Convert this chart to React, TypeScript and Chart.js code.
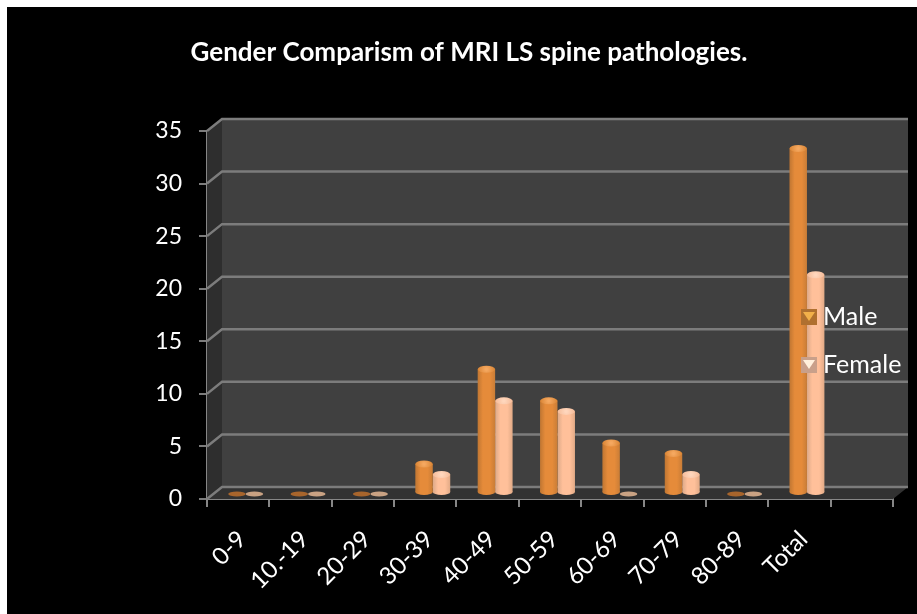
import React, { useEffect, useRef } from "react";
import { Chart, registerables } from "chart.js";

Chart.register(...registerables);

const TITLE = "Gender Comparism of MRI LS spine pathologies.";
const categories = ["0-9", "10.-19", "20-29", "30-39", "40-49", "50-59", "60-69", "70-79", "80-89", "Total", ""];
const maleValues = [0, 0, 0, 3, 12, 9, 5, 4, 0, 33, null];
const femaleValues = [0, 0, 0, 2, 9, 8, 0, 2, 0, 21, null];
const yTicks = { min: 0, max: 35, step: 5 };

const FONT = "Lato, 'Open Sans', sans-serif";
const DX = 15;
const DY = 12;
const GRID = "#7c7c7c";
const AXIS = "#868686";

const palette = [
  { edgeL: "#c07632", mid: "#e58b3a", edgeR: "#c97d37", capEdge: "#d98433", cap: "#f5a860", flat: "#a8652c", icon: "#b0702f", tri: "#f2b04a" },
  { edgeL: "#dca988", mid: "#ffc09a", edgeR: "#e2aa86", capEdge: "#f5bb98", cap: "#ffd6bc", flat: "#c9a283", icon: "#c9a08a", tri: "#fff0dc" },
];

const scene = {
  id: "scene",
  beforeDatasetsDraw(chart: any) {
    const { ctx, chartArea: a, scales } = chart;
    const { left: l, right: r, top: t, bottom: b } = a;
    ctx.save();
    ctx.fillStyle = "#404040";
    ctx.fillRect(l + DX, t - DY, r - l, b - t);
    ctx.fillStyle = "#2e2e2e";
    ctx.beginPath();
    ctx.moveTo(l, t);
    ctx.lineTo(l + DX, t - DY);
    ctx.lineTo(l + DX, b - DY);
    ctx.lineTo(l, b);
    ctx.closePath();
    ctx.fill();
    ctx.fillStyle = "#323232";
    ctx.beginPath();
    ctx.moveTo(l, b);
    ctx.lineTo(l + DX, b - DY);
    ctx.lineTo(r + DX, b - DY);
    ctx.lineTo(r, b);
    ctx.closePath();
    ctx.fill();
    ctx.strokeStyle = GRID;
    ctx.lineWidth = 2.5;
    scales.y.ticks.forEach((tk: any) => {
      const y = scales.y.getPixelForValue(tk.value);
      ctx.beginPath();
      ctx.moveTo(l, y);
      ctx.lineTo(l + DX, y - DY);
      ctx.lineTo(r + DX, y - DY);
      ctx.stroke();
    });
    ctx.restore();
  },
  beforeDatasetDraw(chart: any) {
    chart.ctx.save();
    chart.ctx.translate(DX / 2, -DY / 2);
  },
  afterDatasetDraw(chart: any, args: any) {
    const { ctx } = chart;
    const c = palette[args.index];
    const meta = chart.getDatasetMeta(args.index);
    meta.data.forEach((bar: any, i: number) => {
      const v = chart.data.datasets[args.index].data[i];
      if (v === null || v === undefined) return;
      const w = bar.width;
      const x0 = bar.x - w / 2;
      if (v === 0) {
        ctx.fillStyle = c.flat;
        ctx.beginPath();
        ctx.ellipse(bar.x, bar.y + 1, w / 2, 2.4, 0, 0, Math.PI * 2);
        ctx.fill();
        return;
      }
      const capY = bar.y + 2.5;
      const g = ctx.createLinearGradient(x0, 0, x0 + w, 0);
      g.addColorStop(0, c.edgeL);
      g.addColorStop(0.3, c.mid);
      g.addColorStop(0.7, c.mid);
      g.addColorStop(1, c.edgeR);
      ctx.fillStyle = g;
      ctx.beginPath();
      ctx.rect(x0, capY, w, bar.base - capY);
      ctx.fill();
      ctx.beginPath();
      ctx.ellipse(bar.x, bar.base, w / 2, 3, 0, 0, Math.PI * 2);
      ctx.fill();
      const cg = ctx.createRadialGradient(bar.x, capY, 1, bar.x, capY, w / 2);
      cg.addColorStop(0, c.cap);
      cg.addColorStop(1, c.capEdge);
      ctx.fillStyle = cg;
      ctx.beginPath();
      ctx.ellipse(bar.x, capY, w / 2, 3.5, 0, 0, Math.PI * 2);
      ctx.fill();
    });
    ctx.restore();
  },
  afterDraw(chart: any) {
    const { ctx } = chart;
    const rows = [{ top: 302 }, { top: 350 }];
    chart.data.datasets.forEach((ds: any, i: number) => {
      const c = palette[i];
      const x = 794;
      const y = rows[i].top;
      const s = 16;
      ctx.save();
      ctx.fillStyle = c.icon;
      ctx.fillRect(x, y, s, s);
      ctx.fillStyle = c.tri;
      ctx.beginPath();
      ctx.moveTo(x + 2, y + 3);
      ctx.lineTo(x + s - 2, y + 3);
      ctx.lineTo(x + s / 2, y + s - 4);
      ctx.closePath();
      ctx.fill();
      ctx.fillStyle = "#ffffff";
      ctx.font = `25px ${FONT}`;
      ctx.textBaseline = "middle";
      ctx.textAlign = "left";
      ctx.fillText(ds.label, x + 22, y + s / 2);
      ctx.restore();
    });
  },
};

export default function App() {
  const ref = useRef<HTMLCanvasElement>(null);
  useEffect(() => {
    const chart = new Chart(ref.current as HTMLCanvasElement, {
      type: "bar",
      data: {
        labels: categories,
        datasets: [
          { label: "Male", data: maleValues, backgroundColor: "rgba(0,0,0,0)", borderWidth: 0, clip: false } as any,
          { label: "Female", data: femaleValues, backgroundColor: "rgba(0,0,0,0)", borderWidth: 0, clip: false } as any,
        ],
      },
      options: {
        animation: false,
        responsive: false,
        layout: { padding: { left: 38, right: 24, top: 0, bottom: 15 } },
        datasets: { bar: { categoryPercentage: 0.56, barPercentage: 1 } },
        plugins: {
          legend: { display: false },
          tooltip: { enabled: false },
          title: {
            display: true,
            text: TITLE,
            color: "#ffffff",
            font: { family: FONT, size: 26, weight: "bold", lineHeight: 1.2 },
            padding: { top: 30, bottom: 62.8 },
          },
        },
        scales: {
          x: {
            afterFit: (s: any) => { s.height = 100; },
            grid: { drawOnChartArea: false, drawTicks: true, tickLength: 8, color: AXIS, lineWidth: 2, offset: true },
            border: { color: AXIS, width: 2 },
            ticks: {
              color: "#ffffff",
              font: { family: FONT, size: 24 },
              minRotation: 45,
              maxRotation: 45,
              autoSkip: false,
              padding: 18,
              labelOffset: 4,
            },
          },
          y: {
            min: yTicks.min,
            max: yTicks.max,
            afterFit: (s: any) => { s.width = 162; },
            grid: { drawOnChartArea: false, drawTicks: true, tickLength: 8, color: GRID, lineWidth: 2 },
            border: { color: AXIS, width: 2 },
            ticks: {
              stepSize: yTicks.step,
              color: "#ffffff",
              font: { family: FONT, size: 23 },
              padding: 17,
            },
          },
        },
      },
      plugins: [scene],
    } as any);
    return () => chart.destroy();
  }, []);
  return (
    <div style={{ position: "fixed", inset: 0, background: "#ffffff", overflow: "hidden" }}>
      <canvas
        ref={ref}
        width={910}
        height={607}
        style={{ position: "absolute", left: 7, top: 7, width: 910, height: 607, background: "#000000" }}
      />
    </div>
  );
}
